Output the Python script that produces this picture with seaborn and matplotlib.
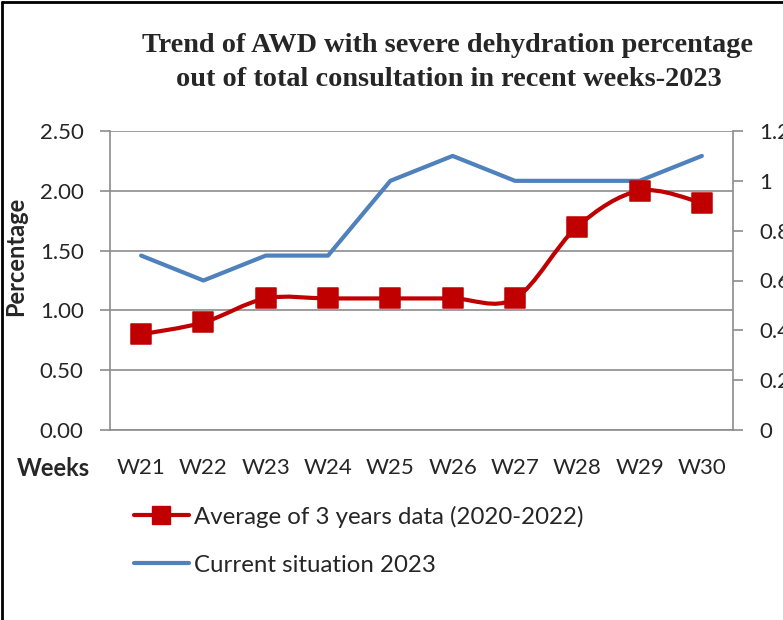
import numpy as np
import seaborn as sns
import matplotlib.pyplot as plt
from matplotlib.path import Path
from matplotlib.patches import PathPatch
from matplotlib.lines import Line2D

sns.set_style("white")
plt.rcParams['font.family'] = ['Lato', 'DejaVu Sans']

weeks = ['W21', 'W22', 'W23', 'W24', 'W25', 'W26', 'W27', 'W28', 'W29', 'W30']
avg_3yrs = [0.8, 0.9, 1.1, 1.1, 1.1, 1.1, 1.1, 1.7, 2.0, 1.9]
current_2023 = [0.7, 0.6, 0.7, 0.7, 1.0, 1.1, 1.0, 1.0, 1.0, 1.1]
left_ticks = [0.0, 0.5, 1.0, 1.5, 2.0, 2.5]
right_ticks = [0, 0.2, 0.4, 0.6, 0.8, 1.0, 1.2]

red = '#C00000'
blue = '#4F81BD'
grey = '#8C8C8C'
pos = np.arange(len(weeks))
tick_fs = 16

fig = plt.figure(figsize=(7.83, 6.2), dpi=100)
ax = fig.add_axes([110 / 783, 1 - 430 / 620, 623 / 783, 299 / 620])

# left axis: grid, ticks, labels
ax.set_xlim(-0.5, len(weeks) - 0.5)
ax.set_ylim(0, 2.5)
ax.set_yticks(left_ticks)
ax.set_yticklabels(['%.2f' % v for v in left_ticks])
ax.set_xticks(pos)
ax.set_xticklabels(weeks)
ax.set_xticks(np.arange(-0.5, len(weeks)), minor=True)
ax.tick_params(axis='x', which='major', length=0, pad=20, labelsize=tick_fs)
ax.tick_params(axis='x', which='minor', length=7, color=grey, width=1.2, direction='out')
ax.tick_params(axis='y', length=7, color=grey, width=1.2, direction='out', pad=12, labelsize=tick_fs, left=True)
ax.yaxis.grid(True, color=grey, linewidth=1.2)
for s in ['top', 'right']:
    ax.spines[s].set_visible(False)
for s in ['left', 'bottom']:
    ax.spines[s].set_color(grey)
    ax.spines[s].set_linewidth(1.2)
ax.set_ylabel('Percentage', fontsize=17, fontweight='bold')
ax.yaxis.set_label_coords(-0.133, 0.58)

# right axis: current situation (cut at the right edge like the original)
ax2 = ax.twinx()
ax2.set_ylim(0, 1.2)
ax2.set_yticks(right_ticks)
ax2.set_yticklabels(['%g' % v for v in right_ticks])
ax2.tick_params(axis='y', length=7, color=grey, width=1.2, direction='out', pad=12, labelsize=tick_fs, right=True)
for s in ['top', 'left', 'bottom']:
    ax2.spines[s].set_visible(False)
ax2.spines['right'].set_color(grey)
ax2.spines['right'].set_linewidth(1.2)
sns.lineplot(x=pos, y=current_2023, ax=ax2, color=blue, linewidth=3, legend=False)
ax2.set_xlim(-0.5, len(weeks) - 0.5)

# red smoothed line on top, left scale
ax3 = ax.twinx()
ax3.set_ylim(0, 2.5)
ax3.set_xlim(-0.5, len(weeks) - 0.5)
ax3.axis('off')
pts = np.column_stack([pos, avg_3yrs])
verts = [pts[0]]
codes = [Path.MOVETO]
for i in range(len(pts) - 1):
    p0 = pts[max(i - 1, 0)]
    p1 = pts[i]
    p2 = pts[i + 1]
    p3 = pts[min(i + 2, len(pts) - 1)]
    verts += [p1 + (p2 - p0) / 6, p2 - (p3 - p1) / 6, p2]
    codes += [Path.CURVE4] * 3
ax3.add_patch(PathPatch(Path(verts, codes), facecolor='none', edgecolor=red, linewidth=3))
sns.scatterplot(x=pos, y=avg_3yrs, ax=ax3, marker='s', s=190, color=red, edgecolor=red, zorder=5, legend=False)

fig.text(17 / 783, 1 - 468 / 620, 'Weeks', fontsize=17, fontweight='bold', va='center', ha='left')

fig.text(447 / 783, 1 - 46 / 620, 'Trend of AWD with severe dehydration percentage',
         family='Liberation Serif', fontweight='bold', fontsize=20.3, ha='center', va='center')
fig.text(449 / 783, 1 - 79 / 620, 'out of total consultation in recent weeks-2023',
         family='Liberation Serif', fontweight='bold', fontsize=20.3, ha='center', va='center')

handles = [Line2D([], [], color=red, linewidth=3, marker='s', markersize=13),
           Line2D([], [], color=blue, linewidth=3)]
fig.legend(handles, ['Average of 3 years data (2020-2022)', 'Current situation 2023'],
           loc='upper left', bbox_to_anchor=(124 / 783, 1 - 496 / 620), borderaxespad=0,
           frameon=False, fontsize=17.3, handlelength=2.3, handletextpad=0.2, labelspacing=1.12)

# frame edges visible in the original crop
fig.add_artist(Line2D([0.002, 0.002], [0, 0.996], color='black', linewidth=2, transform=fig.transFigure))
fig.add_artist(Line2D([0.002, 1], [0.996, 0.996], color='black', linewidth=2, transform=fig.transFigure))

fig.savefig('out.png', dpi=100)
